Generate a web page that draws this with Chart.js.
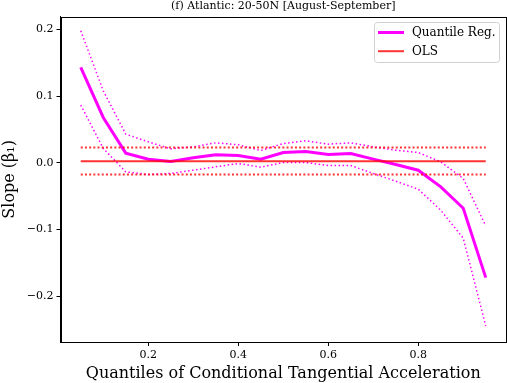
<!DOCTYPE html>
<html>
<head>
<meta charset="utf-8">
<script src="https://cdn.jsdelivr.net/npm/chart.js@4/dist/chart.umd.min.js"></script>
<style>
  body { margin: 0; background: #fff; }
  #wrap { width: 507px; height: 383px; }
</style>
</head>
<body>
<div id="wrap"><canvas id="chart" width="507" height="383"></canvas></div>
<script>
// quantile levels on the x axis
var quantiles = [0.05, 0.10, 0.15, 0.20, 0.25, 0.30, 0.35, 0.40, 0.45, 0.50,
                 0.55, 0.60, 0.65, 0.70, 0.75, 0.80, 0.85, 0.90, 0.95];

// quantile regression slope and its confidence band
var qrSlope = [0.143, 0.068, 0.0145, 0.0055, 0.002, 0.0075, 0.012, 0.011, 0.0055, 0.0155,
               0.017, 0.0125, 0.014, 0.0055, -0.0025, -0.011, -0.036, -0.068, -0.172];
var qrUpper = [0.198, 0.108, 0.043, 0.0315, 0.021, 0.024, 0.030, 0.027, 0.0185, 0.029,
               0.033, 0.028, 0.030, 0.024, 0.019, 0.0155, 0.0015, -0.0235, -0.0945];
var qrLower = [0.0865, 0.0215, -0.0135, -0.0175, -0.016, -0.011, -0.006, -0.001, -0.0065, 0.0005,
               0.0005, -0.004, -0.004, -0.016, -0.0275, -0.0395, -0.071, -0.113, -0.2445];

// OLS slope and its confidence interval
var olsSlope = 0.0025;
var olsUpper = 0.023;
var olsLower = -0.0175;

var xTicks = [0.2, 0.4, 0.6, 0.8];
var yTicks = [-0.2, -0.1, 0.0, 0.1, 0.2];

var MAGENTA = '#ff00ff';
var RED = 'rgba(255,0,0,0.8)';
var FONT = "'DejaVu Serif', serif";

function pts(ys) {
    return quantiles.map(function (q, i) { return { x: q, y: ys[i] }; });
}
function flat(v) {
    var a = quantiles[0], b = quantiles[quantiles.length - 1];
    return [{ x: a, y: v }, { x: b, y: v }];
}
function fmt(v) {
    var s = Math.abs(v).toFixed(1);
    return v < -1e-9 ? '\u2212' + s : s;
}

// frame, title and legend box drawn like the matplotlib figure
var decor = {
    id: 'decor',
    afterDraw: function (chart) {
        var c = chart.ctx, a = chart.chartArea;
        c.save();
        c.strokeStyle = '#000';
        c.lineWidth = 1;
        c.strokeRect(Math.round(a.left) + 0.5, Math.round(a.top) + 0.5,
                     Math.round(a.right - a.left) - 1, Math.round(a.bottom - a.top));

        c.fillStyle = '#000';
        c.font = '11px ' + FONT;
        c.textAlign = 'center';
        c.textBaseline = 'middle';
        c.fillText('(f) Atlantic: 20-50N [August-September]', (a.left + a.right) / 2, 6.5);

        // legend
        var bx = 374.5, by = 22.5, bw = 125, bh = 40, r = 3;
        c.beginPath();
        c.moveTo(bx + r, by);
        c.arcTo(bx + bw, by, bx + bw, by + bh, r);
        c.arcTo(bx + bw, by + bh, bx, by + bh, r);
        c.arcTo(bx, by + bh, bx, by, r);
        c.arcTo(bx, by, bx + bw, by, r);
        c.closePath();
        c.fillStyle = 'rgba(255,255,255,0.8)';
        c.fill();
        c.strokeStyle = '#d0d0d0';
        c.stroke();

        var items = chart.data.datasets.filter(function (d) { return d.inLegend; });
        c.font = '12px ' + FONT;
        c.textAlign = 'left';
        items.forEach(function (d, i) {
            var y = 32.5 + i * 18.7;
            c.beginPath();
            c.moveTo(378, y);
            c.lineTo(404, y);
            c.strokeStyle = d.borderColor;
            c.lineWidth = d.borderWidth;
            c.setLineDash([]);
            c.stroke();
            c.fillStyle = '#000';
            c.fillText(d.label, 412, y + 0.5);
        });
        c.restore();
    }
};

var ctx = document.getElementById('chart').getContext('2d');
var chart = new Chart(ctx, {
    type: 'line',
    data: {
        datasets: [
            { label: 'Quantile Reg.', inLegend: true, data: pts(qrSlope),
              borderColor: MAGENTA, borderWidth: 3, order: 3 },
            { label: 'QR upper', data: pts(qrUpper), borderColor: MAGENTA,
              borderWidth: 1.5, borderDash: [1.5, 2.5], order: 4 },
            { label: 'QR lower', data: pts(qrLower), borderColor: MAGENTA,
              borderWidth: 1.5, borderDash: [1.5, 2.5], order: 4 },
            { label: 'OLS', inLegend: true, data: flat(olsSlope),
              borderColor: RED, borderWidth: 2, order: 1 },
            { label: 'OLS upper', data: flat(olsUpper), borderColor: RED,
              borderWidth: 2, borderDash: [2, 2.2], order: 2 },
            { label: 'OLS lower', data: flat(olsLower), borderColor: RED,
              borderWidth: 2, borderDash: [2, 2.2], order: 2 }
        ]
    },
    options: {
        responsive: false,
        animation: false,
        layout: { padding: { top: 16.7, right: 1, left: 0, bottom: 0 } },
        elements: { point: { radius: 0 }, line: { tension: 0, borderCapStyle: 'butt' } },
        plugins: {
            legend: { display: false },
            title: { display: false },
            tooltip: { enabled: false }
        },
        scales: {
            x: {
                type: 'linear',
                min: 0.005,
                max: 0.995,
                afterBuildTicks: function (s) { s.ticks = xTicks.map(function (v) { return { value: v }; }); },
                afterFit: function (s) { s.height = 41; },
                grid: { drawOnChartArea: false, drawTicks: true, tickLength: 4, color: '#000' },
                border: { display: true, color: '#000' },
                ticks: { color: '#000', padding: 3, font: { family: FONT, size: 11 },
                         maxRotation: 0, callback: function (v) { return fmt(v); } },
                title: { display: true, text: 'Quantiles of Conditional Tangential Acceleration',
                         color: '#000', font: { family: FONT, size: 16 }, padding: 0 }
            },
            y: {
                type: 'linear',
                min: -0.2685,
                max: 0.219,
                afterBuildTicks: function (s) { s.ticks = yTicks.map(function (v) { return { value: v }; }); },
                afterFit: function (s) { s.width = 60.5; },
                grid: { drawOnChartArea: false, drawTicks: true, tickLength: 4, color: '#000' },
                border: { display: true, color: '#000' },
                ticks: { color: '#000', padding: 3, font: { family: FONT, size: 11 },
                         callback: function (v) { return fmt(v); } },
                title: { display: true, text: 'Slope (\u03b2\u2081)', color: '#000',
                         font: { family: FONT, size: 16 }, padding: 0 }
            }
        }
    },
    plugins: [decor]
});
</script>
</body>
</html>
